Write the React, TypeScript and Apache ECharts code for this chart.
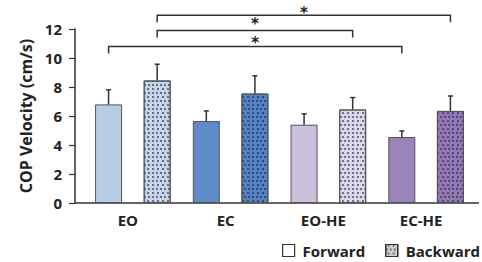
import React, { useEffect, useRef } from "react";
import * as echarts from "echarts";

const categories = ["EO", "EC", "EO-HE", "EC-HE"];
const forwardValues = [6.8, 5.65, 5.4, 4.55];
const forwardErrors = [1.0, 0.7, 0.75, 0.42];
const backwardValues = [8.45, 7.55, 6.45, 6.35];
const backwardErrors = [1.12, 1.22, 0.82, 1.03];
const forwardColors = ["#b8cce6", "#5f8bc8", "#cbc1dc", "#9b84ba"];
const backwardColors = ["#c4d4ea", "#5283c6", "#ddd5ea", "#9177b6"];
// [fromCategory, fromSide (0 forward, 1 backward), toCategory, toSide, level, starLevel]
const brackets = [
  [0, 1, 3, 1, 12.95, 13.3],
  [0, 1, 2, 1, 11.9, 12.52],
  [0, 0, 3, 0, 10.8, 11.25],
];
const bracketLabels = ["*", "*", "*"];
const yMin = 0;
const yMax = 12;
const yInterval = 2;

const BAR_W = 27;
const BAR_GAP = 0.8;
const SIDE_OFF = (BAR_W + BAR_W * BAR_GAP) / 2;
const FONT = "'Open Sans', 'Liberation Sans', sans-serif";

const decal = {
  symbol: "rect",
  symbolSize: 1,
  dashArrayX: [
    [1.3, 1.7],
    [0, 1.5, 1.3, 0.2],
  ],
  dashArrayY: [1.3, 1.7],
  color: "rgba(30,30,50,0.55)",
  rotation: 0,
};

export default function App() {
  const ref = useRef<HTMLDivElement>(null);
  useEffect(() => {
    if (!ref.current) return;
    const chart = echarts.init(ref.current, undefined, { renderer: "svg" });
    const errData = [
      ...forwardValues.map((v, i) => [i, v, forwardErrors[i], -1]),
      ...backwardValues.map((v, i) => [i, v, backwardErrors[i], 1]),
    ];
    chart.setOption({
      animation: false,
      grid: { left: 84, right: 7, top: 29, bottom: 59 },
      legend: {
        left: 282,
        top: 243,
        padding: 0,
        itemWidth: 12,
        itemHeight: 12,
        itemGap: 20,
        icon: "rect",
        textStyle: {
          fontFamily: FONT,
          fontWeight: "bold",
          fontSize: 15,
          color: "#222",
          padding: [0, 0, 0, 3],
        },
        data: [
          {
            name: "Forward",
            itemStyle: { color: "#fff", borderColor: "#333", borderWidth: 1.2 },
          },
          {
            name: "Backward",
            itemStyle: {
              color: "#d0d0d0",
              borderColor: "#333",
              borderWidth: 1.2,
              decal,
            },
          },
        ],
      },
      graphic: [
        {
          type: "line",
          shape: { x1: 75, y1: 203, x2: 479, y2: 203 },
          style: { stroke: "#333", lineWidth: 1.5 },
          silent: true,
        },
      ],
      xAxis: {
        type: "category",
        data: categories,
        axisLine: { show: false },
        axisTick: { show: false },
        axisLabel: {
          fontFamily: FONT,
          fontWeight: "bold",
          fontSize: 15,
          color: "#222",
          margin: 9,
          padding: [0, 10, 0, 0],
        },
      },
      yAxis: {
        type: "value",
        min: yMin,
        max: yMax,
        interval: yInterval,
        offset: 9,
        name: "COP Velocity (cm/s)",
        nameLocation: "middle",
        nameGap: 40,
        nameTextStyle: {
          fontFamily: FONT,
          fontWeight: "bold",
          fontSize: 16,
          color: "#222",
        },
        axisLine: { show: true, lineStyle: { color: "#333", width: 1.5 } },
        axisTick: { show: true, length: 6, lineStyle: { color: "#333", width: 1.2 } },
        splitLine: { show: false },
        axisLabel: {
          fontFamily: FONT,
          fontWeight: "bold",
          fontSize: 15,
          color: "#222",
          margin: 13,
        },
      },
      series: [
        {
          name: "Forward",
          type: "bar",
          barWidth: BAR_W,
          barGap: BAR_GAP * 100 + "%",
          itemStyle: { color: "#fff", borderColor: "#555", borderWidth: 1 },
          data: forwardValues.map((v, i) => ({
            value: v,
            itemStyle: { color: forwardColors[i], borderColor: "#555", borderWidth: 1 },
          })),
        },
        {
          name: "Backward",
          type: "bar",
          barWidth: BAR_W,
          itemStyle: { color: "#d0d0d0", borderColor: "#555", borderWidth: 1, decal },
          data: backwardValues.map((v, i) => ({
            value: v,
            itemStyle: {
              color: backwardColors[i],
              borderColor: "#555",
              borderWidth: 1,
              decal,
            },
          })),
        },
        {
          type: "custom",
          name: "errors",
          z: 5,
          clip: false,
          data: errData,
          renderItem: (params: any, api: any) => {
            const cat = api.value(0);
            const v = api.value(1);
            const e = api.value(2);
            const side = api.value(3);
            const p0 = api.coord([cat, v]);
            const p1 = api.coord([cat, v + e]);
            const x = p0[0] + side * SIDE_OFF;
            const st = { stroke: "#333", lineWidth: 1.5 };
            return {
              type: "group",
              children: [
                { type: "line", shape: { x1: x, y1: p0[1], x2: x, y2: p1[1] }, style: st },
                { type: "line", shape: { x1: x - 2.5, y1: p1[1], x2: x + 2.5, y2: p1[1] }, style: st },
              ],
            };
          },
        },
        {
          type: "custom",
          name: "brackets",
          z: 5,
          clip: false,
          data: brackets,
          renderItem: (params: any, api: any) => {
            const c0 = api.value(0);
            const s0 = api.value(1);
            const c1 = api.value(2);
            const s1 = api.value(3);
            const lv = api.value(4);
            const sl = api.value(5);
            const a = api.coord([c0, lv]);
            const b = api.coord([c1, lv]);
            const sy = api.coord([c0, sl])[1];
            const x0 = a[0] + (s0 ? 1 : -1) * SIDE_OFF;
            const x1 = b[0] + (s1 ? 1 : -1) * SIDE_OFF;
            const y = a[1];
            const drop = 7;
            return {
              type: "group",
              children: [
                {
                  type: "polyline",
                  shape: { points: [[x0, y + drop], [x0, y], [x1, y], [x1, y + drop]] },
                  style: { stroke: "#333", lineWidth: 1.5, fill: "none" },
                },
                {
                  type: "text",
                  x: (x0 + x1) / 2,
                  y: sy + 3,
                  style: {
                    text: bracketLabels[params.dataIndex],
                    fontFamily: "'DejaVu Sans', sans-serif",
                    fontWeight: "bold",
                    fontSize: 15,
                    fill: "#222",
                    align: "center",
                    verticalAlign: "middle",
                  },
                },
              ],
            };
          },
        },
      ],
    });
    return () => chart.dispose();
  }, []);
  return (
    <div
      ref={ref}
      style={{ position: "absolute", left: 0, top: 0, width: 482, height: 262 }}
    />
  );
}
